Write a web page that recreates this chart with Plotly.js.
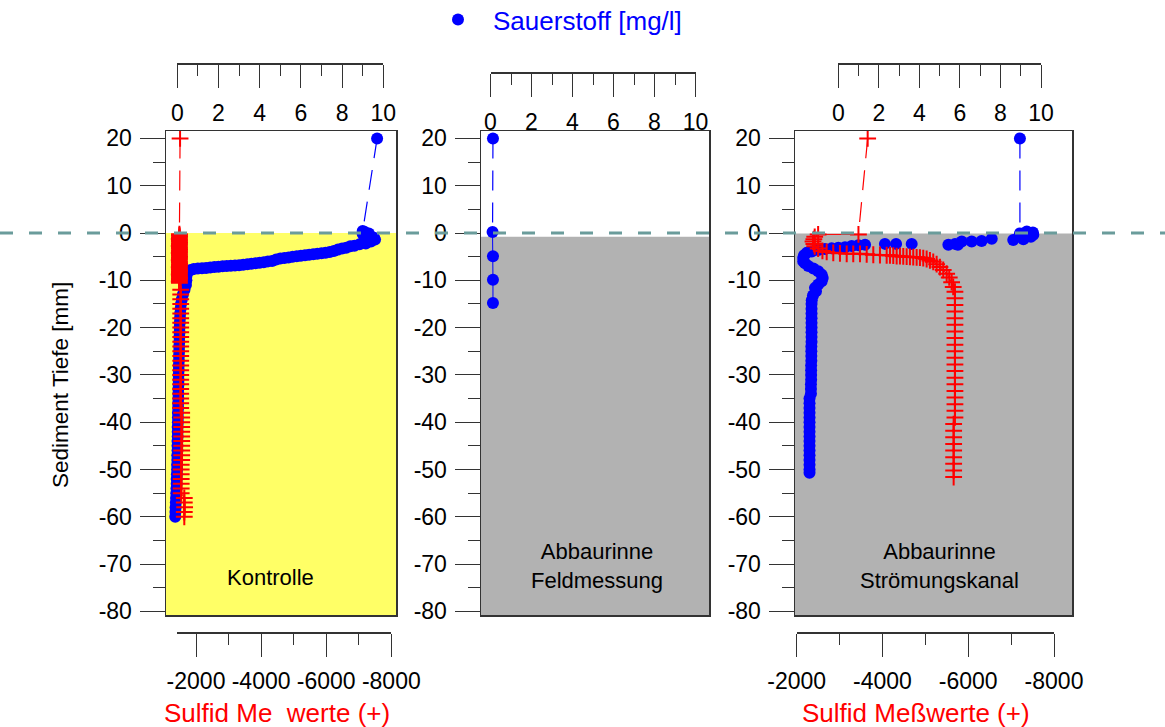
<!DOCTYPE html>
<html><head><meta charset="utf-8">
<script src="https://cdn.plot.ly/plotly-3.0.1.min.js"></script>
<style>html,body{margin:0;padding:0;background:#fff;} #chart{width:1165px;height:727px;}</style>
</head><body><div id="chart"></div>
<script>
// ---------------- DATA ----------------
// Panel 1: Kontrolle
const kontrolleDepthO2 = [20, 0.4, 0.2, -0.2, -0.1, -0.5, -0.9, -1.0, -1.3, -1.4, -1.6, -1.8, -1.9, -2.2, -2.4,
  -2.7, -2.8, -3.1, -3.3, -3.5, -3.8, -4.0, -4.2, -4.3, -4.4, -4.5, -4.6, -4.7, -4.8, -4.9, -5.0, -5.2, -5.3, -5.4, -5.6,
  -5.9, -6.0, -6.2, -6.3, -6.4, -6.5, -6.6, -6.7, -6.8, -6.85, -6.9, -7.0, -7.05, -7.15, -7.2, -7.3, -7.4, -7.45, -7.5, -7.6, -7.8, -8.2,
  -9, -10, -11, -12, -13, -14, -15, -16, -17, -18, -19, -20, -21, -22, -23, -24, -25, -26, -27, -28, -29, -30,
  -31, -32, -33, -34, -35, -36, -37, -38, -39, -40, -41, -42, -43, -44, -45, -46, -47, -48, -49, -50,
  -51, -52, -53, -54, -55, -56, -57, -58, -59, -60];
const kontrolleO2 = [9.7, 9.0, 9.1, 9.0, 9.3, 9.25, 9.4, 9.55, 9.5, 9.6, 9.35, 9.4, 9.1, 9.15, 8.85,
  8.6, 8.4, 8.2, 8.0, 7.8, 7.6, 7.4, 7.2, 7.0, 6.8, 6.6, 6.4, 6.2, 6.0, 5.8, 5.6, 5.4, 5.2, 5.0, 4.8,
  4.6, 4.4, 4.2, 4.0, 3.8, 3.6, 3.4, 3.2, 3.0, 2.8, 2.6, 2.4, 2.2, 2.0, 1.8, 1.6, 1.4, 1.2, 1.0, 0.8, 0.65, 0.5,
  0.45, 0.44, 0.42, 0.35, 0.27, 0.22, 0.18, 0.16, 0.14, 0.13, 0.12, 0.11, 0.11, 0.10, 0.10, 0.09, 0.09, 0.08, 0.08, 0.07, 0.07, 0.06,
  0.06, 0.06, 0.05, 0.05, 0.05, 0.04, 0.04, 0.03, 0.03, 0.03, 0.02, 0.02, 0.02, 0.01, 0.01, 0.01, 0.0, 0.0, -0.01, -0.01,
  -0.02, -0.03, -0.03, -0.04, -0.05, -0.06, -0.07, -0.08, -0.09, -0.1];
const kontrolleDepthS = [20,
  -0.25, -0.5, -0.75, -1, -1.25, -1.5, -1.75, -2, -2.25, -2.5, -2.75, -3, -3.25, -3.5, -3.75, -4,
  -4.25, -4.5, -4.75, -5, -5.25, -5.5, -5.75, -6, -6.25, -6.5, -6.75, -7, -7.25, -7.5, -7.75, -8,
  -8.25, -8.5, -8.75, -9, -9.25, -9.5, -9.75, -10, -10.25, -10.5,
  -12, -13, -14, -15, -16, -17, -18, -19, -20, -21, -22, -23, -24, -25, -26, -27, -28, -29, -30,
  -31, -32, -33, -34, -35, -36, -37, -38, -39, -40, -41, -42, -43, -44, -45, -46, -47, -48, -49, -50,
  -51, -52, -53, -54, -55, -56, -57, -58, -59, -60];
const kontrolleS = [-1510,
  -1490, -1490, -1495, -1490, -1485, -1490, -1490, -1495, -1490, -1490, -1485, -1490, -1490, -1495, -1490, -1490,
  -1485, -1490, -1490, -1495, -1490, -1490, -1485, -1490, -1490, -1495, -1490, -1490, -1485, -1490, -1490, -1495,
  -1490, -1490, -1485, -1490, -1490, -1495, -1490, -1490, -1485, -1490,
  -1530, -1530, -1530, -1530, -1530, -1530, -1530, -1530, -1530, -1530, -1530, -1530, -1530, -1530, -1530, -1530, -1530, -1530, -1530,
  -1530, -1530, -1530, -1530, -1530, -1530, -1530, -1560, -1560, -1560, -1560, -1560, -1560, -1560, -1560, -1560, -1560, -1560, -1545, -1545,
  -1545, -1545, -1545, -1545, -1545, -1640, -1640, -1650, -1640, -1640];

// Panel 2: Abbaurinne Feldmessung
const feldDepthO2 = [20, 0.2, -4.9, -9.9, -14.8];
const feldO2 = [0.12, 0.1, 0.12, 0.12, 0.12];

// Panel 3: Abbaurinne Strömungskanal
const kanalDepthO2 = [20, -0.1, 0.3, -0.35, 0.1, -0.8, -1.3, -1.5, -1.2, -1.7, -1.8, -1.8, -2.3,
  -2.5, -2.5, -2.3, -2.3, -2.3, -2.5, -2.6, -2.75, -3.0, -3.1,
  -3.25, -3.4, -3.6, -3.9, -4.2, -4.7, -5.3, -6.0, -6.4, -7.0,
  -7.5, -8.1, -8.8, -9.5, -10.2, -10.9, -11.6, -12.3, -13.2, -14.2,
  -15, -16, -17, -18, -19, -20, -21, -22, -23, -24, -25, -26, -27, -28, -29, -30, -31, -32, -33, -34,
  -35, -36, -37, -38, -39, -40, -41, -42, -43, -44, -45, -46, -47, -48, -49, -50, -50.7];
const kanalO2 = [8.96, 8.96, 9.3, 9.62, 9.6, 9.5, 9.13, 8.63, 7.57, 7.07, 6.58, 6.09, 5.76,
  5.9, 5.43, 3.62, 2.85, 2.3, 1.32, 0.99, 0.66, 0.33, 0.0,
  -0.33, -0.66, -0.99, -1.31, -1.56, -1.69, -1.73, -1.73, -1.64, -1.48,
  -1.23, -0.99, -0.82, -0.77, -0.82, -0.99, -1.15, -1.1, -1.25, -1.31,
  -1.32, -1.32, -1.32, -1.32, -1.32, -1.32, -1.32, -1.32, -1.32, -1.33, -1.33, -1.33, -1.33, -1.34, -1.34, -1.34, -1.34, -1.35, -1.35, -1.35,
  -1.42, -1.42, -1.42, -1.42, -1.42, -1.42, -1.42, -1.42, -1.42, -1.42, -1.42, -1.42, -1.42, -1.42, -1.42, -1.42, -1.42];
const kanalDepthS = [20, -0.3, -0.3, -0.8, -1.3, -1.8, -2.3, -2.8, -3.3, -3.8,
  -4.0, -4.2, -4.3, -4.4, -4.4, -4.4, -4.5, -4.6, -4.65, -4.7,
  -4.7, -4.8, -4.9, -4.9, -4.95, -5.0, -5.05, -5.1, -5.15, -5.2,
  -5.3, -5.5, -5.8, -6.1, -6.6, -7.2, -7.8, -8.6, -9.4, -10.4, -11.4,
  -12.4, -13.8, -15.2, -16.6, -18, -19.4, -20.8, -22.2, -23.6, -25, -26.4, -27.8, -29.2, -30.6, -32, -33.4, -34.8, -36.2, -37.6, -39,
  -40.4, -41.8, -43.2, -44.6, -46, -47.4, -48.8, -50.2, -51.6];
const kanalS = [-3655, -3440, -2500, -2420, -2400, -2380, -2400, -2420, -2500, -2600,
  -2699, -2853, -3009, -3166, -3319, -3476, -3632, -3786, -3942, -4098,
  -4175, -4252, -4331, -4408, -4485, -4564, -4641, -4718, -4797, -4874,
  -4951, -5030, -5107, -5184, -5263, -5340, -5417, -5497, -5557, -5613, -5650,
  -5690, -5690, -5690, -5690, -5690, -5690, -5690, -5690, -5690, -5690, -5690, -5690, -5690, -5690, -5690, -5690, -5690, -5690, -5690, -5690,
  -5660, -5660, -5660, -5660, -5660, -5660, -5660, -5660, -5660];

// Ticks
const depthTicks = [20, 10, 0, -10, -20, -30, -40, -50, -60, -70, -80];
const depthTickText = ['20', '10', '0', '-10', '-20', '-30', '-40', '-50', '-60', '-70', '-80'];
const depthMinor = [15, 5, -5, -15, -25, -35, -45, -55, -65, -75];
const o2Ticks = [0, 2, 4, 6, 8, 10];
const o2TickText = ['0', '2', '4', '6', '8', '10'];
const o2Minor = [1, 3, 5, 7, 9];
const sulfTicks = [-2000, -4000, -6000, -8000];
const sulfTickText = ['-2000', '-4000', '-6000', '-8000'];
const sulfMinor = [-3000, -5000, -7000];

// Text
const legendName = 'Sauerstoff [mg/l]';
const yTitle = 'Sediment Tiefe [mm]';
const sulfTitle1 = 'Sulfid Me\u00a0\u00a0werte (+)';
const sulfTitle3 = 'Sulfid Meßwerte (+)';
const panelLabels = ['Kontrolle', 'Abbaurinne<br>Feldmessung', 'Abbaurinne<br>Strömungskanal'];

// ---------------- LAYOUT GEOMETRY (pixels) ----------------
const W = 1165, H = 727;
const px = v => v / W;
const py = v => 1 - v / H;
const boxTop = 131, boxBot = 615, zeroY = 233, pxPerMm = 4.73;
const depthRange = [(zeroY - boxBot) / pxPerMm, (zeroY - boxTop) / pxPerMm];
const FONT = 'Arial, "Liberation Sans", sans-serif';
const AX = '#333';

function linRange(boxL, boxR, axL, axR, v0, v1) {
  const k = (v1 - v0) / (axR - axL);
  return [v0 + (boxL - axL) * k, v0 + (boxR - axL) * k];
}

const panels = [
  {box: [166, 396], o2Ax: [177.3, 383.3], o2Y: 63, sAx: [177.3, 391.3], sRange: [-1425, -8000], sY: 632},
  {box: [481, 709], o2Ax: [490.5, 695.5], o2Y: 72},
  {box: [795, 1072], o2Ax: [838.3, 1041], o2Y: 63, sAx: [796.7, 1054], sRange: [-2000, -8000], sY: 632}
];

const tickFont = {family: FONT, size: 23, color: '#000'};

function yAxisDef(anchor) {
  return {
    domain: [py(boxBot), py(boxTop)], range: depthRange, anchor: anchor,
    tickmode: 'array', tickvals: depthTicks, ticktext: depthTickText,
    ticks: 'outside', ticklen: 25, tickwidth: 1, tickcolor: AX,
    minor: {tickmode: 'array', tickvals: depthMinor, ticks: 'outside', ticklen: 12, tickwidth: 1, tickcolor: AX},
    showline: true, linecolor: AX, linewidth: 1.5, mirror: true,
    showgrid: false, zeroline: false, tickfont: tickFont, ticklabelstandoff: 3
  };
}
function dataXDef(p, anchor) {
  return {
    domain: [px(p.box[0]), px(p.box[1])], range: linRange(p.box[0], p.box[1], p.o2Ax[0], p.o2Ax[1], 0, 10),
    anchor: anchor, showline: true, linecolor: AX, linewidth: 1.5, mirror: true,
    ticks: '', showticklabels: false, showgrid: false, zeroline: false
  };
}
function dataSDef(p, overl, anchor) {
  return {
    overlaying: overl, anchor: anchor,
    range: linRange(p.box[0], p.box[1], p.sAx[0], p.sAx[1], p.sRange[0], p.sRange[1]),
    visible: false, showgrid: false, zeroline: false
  };
}
function dispO2Def(p) {
  return {
    domain: [px(p.o2Ax[0]), px(p.o2Ax[1])], range: [0, 10], anchor: 'free', position: py(p.o2Y), side: 'bottom',
    tickmode: 'array', tickvals: o2Ticks, ticktext: o2TickText,
    ticks: 'outside', ticklen: 23, tickwidth: 1, tickcolor: AX,
    minor: {tickmode: 'array', tickvals: o2Minor, ticks: 'outside', ticklen: 11, tickwidth: 1, tickcolor: AX},
    showline: true, linecolor: AX, linewidth: 1.5, showgrid: false, zeroline: false,
    tickfont: tickFont, ticklabelstandoff: 6
  };
}
function dispSDef(p) {
  return {
    domain: [px(p.sAx[0]), px(p.sAx[1])], range: p.sRange, anchor: 'free', position: py(p.sY), side: 'bottom',
    tickmode: 'array', tickvals: sulfTicks, ticktext: sulfTickText,
    ticks: 'outside', ticklen: 23, tickwidth: 1, tickcolor: AX,
    minor: {tickmode: 'array', tickvals: sulfMinor, ticks: 'outside', ticklen: 11, tickwidth: 1, tickcolor: AX},
    showline: true, linecolor: AX, linewidth: 1.5, showgrid: false, zeroline: false,
    tickfont: tickFont, ticklabelstandoff: 5
  };
}

// ---------------- TRACES ----------------
const BLUE = '#0000ff', RED = '#ff0000';
function connector(xs, ys, xa, ya, color) {
  return {x: xs.slice(0, 2), y: ys.slice(0, 2), xaxis: xa, yaxis: ya, mode: 'lines',
    line: {color: color, width: 1.2, dash: '20px,12px'}, showlegend: false, hoverinfo: 'skip'};
}
function thinLine(xs, ys, xa, ya, color) {
  return {x: xs.slice(1), y: ys.slice(1), xaxis: xa, yaxis: ya, mode: 'lines',
    line: {color: color, width: 1}, showlegend: false, hoverinfo: 'skip'};
}
function o2Markers(xs, ys, xa, ya, legend) {
  return {x: xs, y: ys, xaxis: xa, yaxis: ya, mode: 'markers', name: legendName,
    marker: {symbol: 'circle', size: 12, color: BLUE}, showlegend: legend};
}
function sMarkers(xs, ys, xa, ya) {
  return {x: xs, y: ys, xaxis: xa, yaxis: ya, mode: 'markers', name: 'Sulfid',
    marker: {symbol: 'cross-thin', size: 12, color: RED, line: {width: 2, color: RED}}, showlegend: false};
}
function dummy(xa, ya) {
  return {x: [], y: [], xaxis: xa, yaxis: ya, mode: 'markers', showlegend: false, hoverinfo: 'skip'};
}

const traces = [
  // panel 1
  connector(kontrolleO2, kontrolleDepthO2, 'x', 'y', BLUE),
  o2Markers(kontrolleO2, kontrolleDepthO2, 'x', 'y', true),
  connector(kontrolleS, kontrolleDepthS, 'x2', 'y', RED),
  thinLine(kontrolleS, kontrolleDepthS, 'x2', 'y', RED),
  sMarkers(kontrolleS, kontrolleDepthS, 'x2', 'y'),
  dummy('x3', 'y'), dummy('x4', 'y'),
  // panel 2
  connector(feldO2, feldDepthO2, 'x5', 'y2', BLUE),
  thinLine(feldO2, feldDepthO2, 'x5', 'y2', BLUE),
  o2Markers(feldO2, feldDepthO2, 'x5', 'y2', false),
  dummy('x6', 'y2'),
  // panel 3
  connector(kanalO2, kanalDepthO2, 'x7', 'y3', BLUE),
  o2Markers(kanalO2, kanalDepthO2, 'x7', 'y3', false),
  connector(kanalS, kanalDepthS, 'x8', 'y3', RED),
  thinLine(kanalS, kanalDepthS, 'x8', 'y3', RED),
  sMarkers(kanalS, kanalDepthS, 'x8', 'y3'),
  dummy('x9', 'y3'), dummy('x10', 'y3')
];

// ---------------- LAYOUT ----------------
const layout = {
  width: W, height: H, margin: {l: 0, r: 0, t: 0, b: 0, autoexpand: false},
  paper_bgcolor: '#fff', plot_bgcolor: 'rgba(0,0,0,0)',
  font: {family: FONT, color: '#000'},
  showlegend: true,
  legend: {x: px(423), y: py(-4), xanchor: 'left', yanchor: 'top', itemwidth: 60,
    font: {family: FONT, size: 26, color: BLUE}, bgcolor: 'rgba(0,0,0,0)'},
  yaxis: yAxisDef('x'), yaxis2: yAxisDef('x5'), yaxis3: yAxisDef('x7'),
  xaxis: dataXDef(panels[0], 'y'), xaxis2: dataSDef(panels[0], 'x', 'y'),
  xaxis3: dispO2Def(panels[0]), xaxis4: dispSDef(panels[0]),
  xaxis5: dataXDef(panels[1], 'y2'), xaxis6: dispO2Def(panels[1]),
  xaxis7: dataXDef(panels[2], 'y3'), xaxis8: dataSDef(panels[2], 'x7', 'y3'),
  xaxis9: dispO2Def(panels[2]), xaxis10: dispSDef(panels[2]),
  shapes: [
    {type: 'rect', layer: 'below', xref: 'x domain', x0: 0, x1: 1, yref: 'y', y0: depthRange[0], y1: 0,
      fillcolor: '#ffff66', line: {width: 0}},
    {type: 'rect', layer: 'below', xref: 'x5 domain', x0: 0, x1: 1, yref: 'y2', y0: depthRange[0], y1: -0.8,
      fillcolor: '#b2b2b2', line: {width: 0}},
    {type: 'rect', layer: 'below', xref: 'x7 domain', x0: 0, x1: 1, yref: 'y3', y0: depthRange[0], y1: -0.1,
      fillcolor: '#b2b2b2', line: {width: 0}},
    {type: 'line', layer: 'above', xref: 'paper', x0: 0, x1: 1, yref: 'y', y0: 0, y1: 0,
      line: {color: '#6a9c9b', width: 3, dash: '13px,16px'}}
  ],
  annotations: [
    {text: yTitle, xref: 'paper', yref: 'paper', x: px(60), y: py(385), textangle: -90, showarrow: false,
      xanchor: 'center', yanchor: 'middle', font: {family: FONT, size: 22.5, color: '#000'}},
    {text: sulfTitle1, xref: 'paper', yref: 'paper', x: px(277), y: py(713), showarrow: false,
      xanchor: 'center', yanchor: 'middle', font: {family: FONT, size: 26, color: RED}},
    {text: sulfTitle3, xref: 'paper', yref: 'paper', x: px(916), y: py(713), showarrow: false,
      xanchor: 'center', yanchor: 'middle', font: {family: FONT, size: 26, color: RED}},
    {text: panelLabels[0], xref: 'paper', yref: 'paper', x: px(270), y: py(577), showarrow: false,
      xanchor: 'center', yanchor: 'middle', font: {family: FONT, size: 22, color: '#000'}},
    {text: panelLabels[1], xref: 'paper', yref: 'paper', x: px(597), y: py(566), showarrow: false,
      xanchor: 'center', yanchor: 'middle', font: {family: FONT, size: 22, color: '#000'}},
    {text: panelLabels[2], xref: 'paper', yref: 'paper', x: px(939), y: py(566), showarrow: false,
      xanchor: 'center', yanchor: 'middle', font: {family: FONT, size: 22, color: '#000'}}
  ]
};

Plotly.newPlot('chart', traces, layout, {displayModeBar: false, staticPlot: true});
</script></body></html>
